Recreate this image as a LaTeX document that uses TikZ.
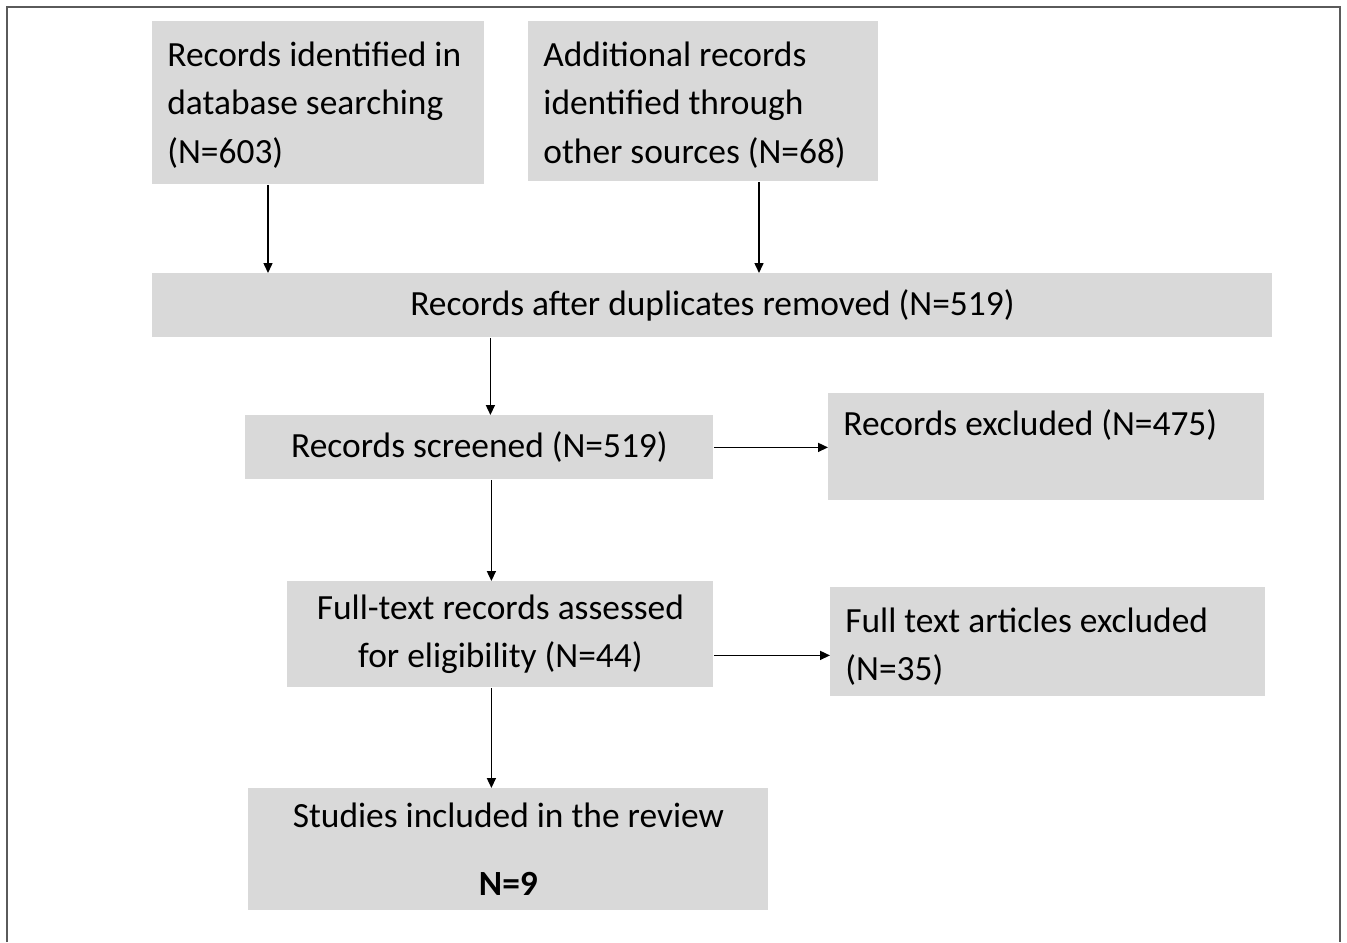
\documentclass[tikz,border=0pt]{standalone}
\usepackage{fontspec}
\setmainfont{Carlito}
\usepackage{xcolor}
\usetikzlibrary{arrows.meta}
\definecolor{boxgray}{HTML}{D9D9D9}
\definecolor{framegray}{HTML}{5A5A5A}

\begin{document}
\begin{tikzpicture}[x=0.5pt,y=-0.5pt,
  box/.style={fill=boxgray,anchor=north west,inner ysep=0pt,inner xsep=7.5pt,
    font=\fontsize{17.7}{24.25}\selectfont},
  leftbox/.style={box,align=flush left},
  midbox/.style={box,align=center},
  arr/.style={-{Triangle[length=5pt,width=4.5pt]},line width=0.75pt,black}]
\useasboundingbox (0,0) rectangle (1347,942);
\draw[framegray,line width=1pt] (7,942) -- (7,7) -- (1340,7) -- (1340,942);

\node[leftbox,text width=151pt,text height=22.5pt,text depth=59pt] (A) at (152,21)
  {Records identified in\\database searching\\(N=603)};
\node[leftbox,text width=160pt,text height=22.5pt,text depth=57.5pt] (B) at (528,21)
  {Additional records\\identified through\\other sources (N=68)};
\node[midbox,minimum width=560pt,minimum height=32pt] (C) at (152,273)
  {Records after duplicates removed (N=519)};
\node[midbox,minimum width=234pt,minimum height=32pt] (D) at (245,415)
  {Records screened (N=519)};
\node[leftbox,text width=203pt,text height=21pt,text depth=32.5pt] (E) at (828,393)
  {Records excluded (N=475)};
\node[midbox,minimum width=213pt,minimum height=53pt] (F) at (287,581)
  {Full-text records assessed\\for eligibility (N=44)};
\node[leftbox,text width=202.5pt,text height=22.5pt,text depth=32pt] (G) at (830,587)
  {Full text articles excluded\\(N=35)};
\node[midbox,minimum width=260pt,minimum height=61pt] (H) at (248,788)
  {Studies included in the review\\[10pt]\textbf{N=9}};

\draw[arr] ([xshift=58pt]A.south west) -- ([xshift=58pt]A.south west |- C.north);
\draw[arr] ([xshift=115.5pt]B.south west) -- ([xshift=115.5pt]B.south west |- C.north);
\draw[arr] ([xshift=5.5pt]D.north |- C.south) -- ([xshift=5.5pt]D.north);
\draw[arr] (D.east) -- (D.east -| E.west);
\draw[arr] ([xshift=6pt]D.south) -- ([xshift=6pt]D.south |- F.north);
\draw[arr] ([yshift=-10.5pt]F.east) -- ([yshift=-10.5pt]F.east -| G.west);
\draw[arr] ([xshift=-4.5pt]F.south) -- ([xshift=-4.5pt]F.south |- H.north);
\end{tikzpicture}
\end{document}
